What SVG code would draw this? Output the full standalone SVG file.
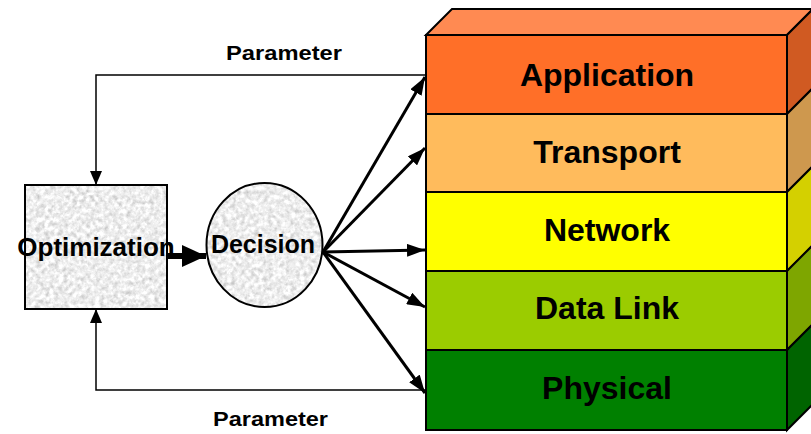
<svg xmlns="http://www.w3.org/2000/svg" width="811" height="434" viewBox="0 0 811 434">
  <style>
    .lbl { font-family: "Liberation Sans", Arial, sans-serif; font-weight: bold; fill: #000; text-anchor: middle; }
    .layer { stroke: #000; stroke-width: 2; stroke-linejoin: miter; }
    .feed { fill: none; stroke: #000; stroke-width: 1.5; }
    .fan { fill: none; stroke: #000; stroke-width: 3; }
    .outline { fill: none; stroke: #000; stroke-width: 2; }
  </style>
  <defs>
    <!-- light grey granite texture for the two process shapes -->
    <filter id="granite" x="0" y="0" width="100%" height="100%" color-interpolation-filters="sRGB">
      <feTurbulence type="fractalNoise" baseFrequency="0.22" numOctaves="3" seed="7" result="noise"/>
      <feColorMatrix in="noise" type="matrix" values="0.22 0.22 0.22 0 0.6  0.22 0.22 0.22 0 0.6  0.22 0.22 0.22 0 0.6  0 0 0 0 1" result="grey"/>
      <feComposite in="grey" in2="SourceGraphic" operator="in"/>
    </filter>
    <marker id="tipThin" markerUnits="userSpaceOnUse" markerWidth="14" markerHeight="12" refX="14" refY="6" orient="auto">
      <path d="M0,0 L14,6 L0,12 z" fill="#000"/>
    </marker>
    <marker id="tipFan" markerUnits="userSpaceOnUse" markerWidth="18" markerHeight="13" refX="18" refY="6.5" orient="auto">
      <path d="M0,0 L18,6.5 L0,13 z" fill="#000"/>
    </marker>
    <marker id="tipBig" markerUnits="userSpaceOnUse" markerWidth="24" markerHeight="22" refX="24" refY="11" orient="auto">
      <path d="M0,0 L24,11 L0,22 z" fill="#000"/>
    </marker>
  </defs>

  <!-- protocol stack -->
  <g id="stack">
    <polygon class="layer" points="426,35 452,9 813,9 787,35" fill="#FF8A52"/>
  </g>
  <g id="application">
    <rect class="layer" x="426" y="35" width="361" height="79" fill="#FF6F28"/>
    <polygon class="layer" points="787,35 813,9 813,88 787,114" fill="#D05A22"/>
    <text class="lbl" x="607" y="86" font-size="32">Application</text>
  </g>
  <g id="transport">
    <rect class="layer" x="426" y="114" width="361" height="78" fill="#FFBB5C"/>
    <polygon class="layer" points="787,114 813,88 813,166 787,192" fill="#CE984E"/>
    <text class="lbl" x="607" y="163" font-size="32">Transport</text>
  </g>
  <g id="network">
    <rect class="layer" x="426" y="192" width="361" height="79" fill="#FFFF00"/>
    <polygon class="layer" points="787,192 813,166 813,245 787,271" fill="#D4D000"/>
    <text class="lbl" x="607" y="241" font-size="32">Network</text>
  </g>
  <g id="datalink">
    <rect class="layer" x="426" y="271" width="361" height="79" fill="#9BCC00"/>
    <polygon class="layer" points="787,271 813,245 813,324 787,350" fill="#7EA600"/>
    <text class="lbl" x="607" y="319" font-size="32">Data Link</text>
  </g>
  <g id="physical">
    <rect class="layer" x="426" y="350" width="361" height="80" fill="#008000"/>
    <polygon class="layer" points="787,350 813,324 813,404 787,430" fill="#006400"/>
    <text class="lbl" x="607" y="399" font-size="32">Physical</text>
  </g>

  <!-- optimizer and decision -->
  <g id="optimization">
    <rect x="25" y="185" width="142" height="124" fill="#fff" filter="url(#granite)"/>
    <rect class="outline" x="25" y="185" width="142" height="124"/>
  </g>
  <g id="decision">
    <ellipse cx="264.5" cy="245" rx="58" ry="62" fill="#fff" filter="url(#granite)"/>
    <ellipse class="outline" cx="264.5" cy="245" rx="58" ry="62"/>
    <text class="lbl" x="263" y="253" font-size="25">Decision</text>
  </g>

  <!-- connectors -->
  <g id="connectors">
    <path class="feed" d="M426,75 H96 V185" marker-end="url(#tipThin)"/>
    <path class="feed" d="M426,390 H96 V309" marker-end="url(#tipThin)"/>
    <line x1="167" y1="256" x2="206" y2="256" stroke="#000" stroke-width="6" marker-end="url(#tipBig)"/>
    <line class="fan" x1="323" y1="252" x2="425" y2="77" marker-end="url(#tipFan)"/>
    <line class="fan" x1="323" y1="252" x2="425" y2="148" marker-end="url(#tipFan)"/>
    <line class="fan" x1="323" y1="252" x2="425" y2="250" marker-end="url(#tipFan)"/>
    <line class="fan" x1="323" y1="252" x2="425" y2="307" marker-end="url(#tipFan)"/>
    <line class="fan" x1="323" y1="252" x2="425" y2="393" marker-end="url(#tipFan)"/>
  </g>

  <!-- labels drawn over the boxes -->
  <text class="lbl" x="96" y="256" font-size="26">Optimization</text>
  <text class="lbl" x="284" y="60" font-size="20" textLength="116" lengthAdjust="spacingAndGlyphs">Parameter</text>
  <text class="lbl" x="270.5" y="426" font-size="20" textLength="115" lengthAdjust="spacingAndGlyphs">Parameter</text>
</svg>
